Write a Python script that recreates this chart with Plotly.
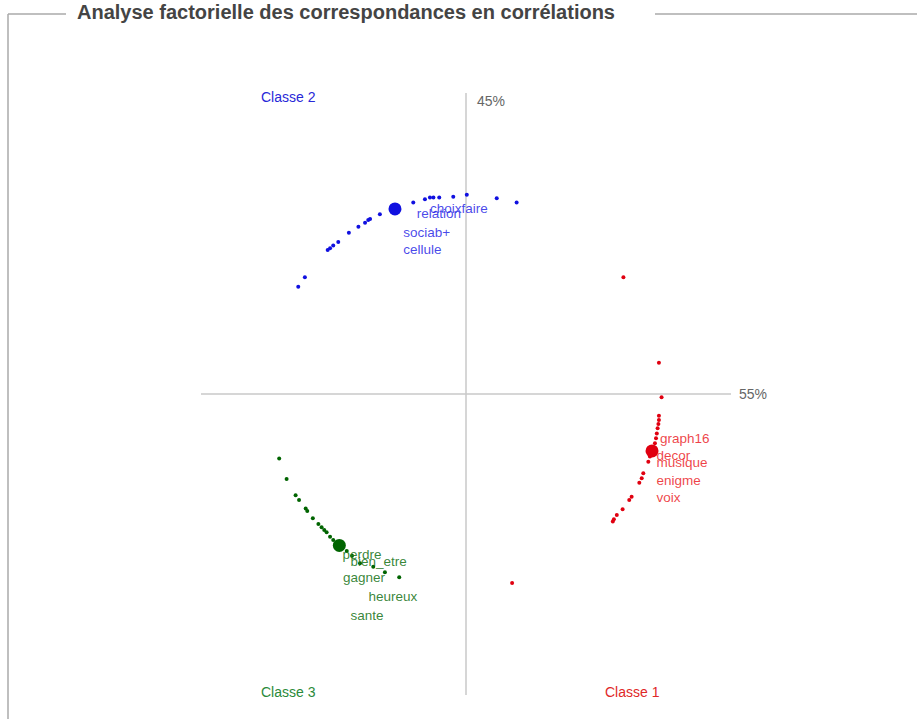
import plotly.graph_objects as go

# ---- data (axis 1 = horizontal, axis 2 = vertical) ----
classe2_x = [-0.633, -0.608, -0.522, -0.513, -0.501, -0.482, -0.442, -0.406, -0.381, -0.369, -0.362,
             -0.325, -0.199, -0.155, -0.136, -0.123, -0.101, -0.048, 0.003, 0.116, 0.191]
classe2_y = [0.356, 0.388, 0.478, 0.484, 0.493, 0.505, 0.536, 0.556, 0.569, 0.578, 0.581,
             0.597, 0.636, 0.647, 0.653, 0.653, 0.653, 0.655, 0.662, 0.650, 0.636]
classe2_center = (-0.268, 0.615)
classe2_labels = ["relation", "choixfaire", "sociab+", "cellule"]
classe2_lab_x = [-0.186, -0.136, -0.237, -0.237]
classe2_lab_y = [0.597, 0.614, 0.534, 0.475]

classe1_x = [0.594, 0.728, 0.738, 0.728, 0.728, 0.726, 0.723, 0.720, 0.717, 0.713, 0.694, 0.688,
             0.669, 0.663, 0.654, 0.625, 0.616, 0.591, 0.569, 0.558, 0.554, 0.174]
classe1_y = [0.388, 0.104, -0.011, -0.072, -0.086, -0.100, -0.114, -0.131, -0.147, -0.164, -0.208, -0.225,
             -0.263, -0.280, -0.295, -0.341, -0.352, -0.383, -0.402, -0.416, -0.424, -0.628]
classe1_center = (0.702, -0.189)
classe1_labels = ["graph16", "decor", "musique", "enigme", "voix"]
classe1_lab_x = [0.732, 0.719, 0.719, 0.719, 0.719]
classe1_lab_y = [-0.153, -0.208, -0.231, -0.291, -0.349]

classe3_x = [-0.705, -0.677, -0.643, -0.630, -0.605, -0.599, -0.578, -0.557, -0.545, -0.535, -0.526,
             -0.513, -0.501, -0.450, -0.430, -0.400, -0.350, -0.306, -0.252]
classe3_y = [-0.214, -0.282, -0.336, -0.352, -0.380, -0.389, -0.413, -0.432, -0.443, -0.452, -0.459,
             -0.474, -0.485, -0.522, -0.537, -0.562, -0.574, -0.592, -0.609]
classe3_center = (-0.478, -0.503)
classe3_labels = ["perdre", "bien_etre", "gagner", "heureux", "sante"]
classe3_lab_x = [-0.466, -0.436, -0.464, -0.368, -0.436]
classe3_lab_y = [-0.537, -0.561, -0.615, -0.676, -0.741]

axis_pct = ["55%", "45%"]
class_names = ["Classe 1", "Classe 2", "Classe 3"]
title = "Analyse factorielle des correspondances en corrélations"

# ---- figure ----
FONT = "Liberation Sans, Arial, sans-serif"
W, H = 917, 719
CX, CY = 466, 394     # origin position inside the figure (pixels)
SX, SY = 265, 301     # pixels per unit

fig = go.Figure()

# axes
fig.add_trace(go.Scatter(x=[-1, 1], y=[0, 0], mode="lines",
                         line=dict(color="#c8c8c8", width=1.5), hoverinfo="skip"))
fig.add_trace(go.Scatter(x=[0, 0], y=[-1, 1], mode="lines",
                         line=dict(color="#c8c8c8", width=1.5), hoverinfo="skip"))

groups = [
    (classe2_x, classe2_y, classe2_center, classe2_labels, classe2_lab_x, classe2_lab_y,
     "#1010e0", "rgba(40,40,230,0.85)"),
    (classe1_x, classe1_y, classe1_center, classe1_labels, classe1_lab_x, classe1_lab_y,
     "#e00010", "rgba(235,30,40,0.85)"),
    (classe3_x, classe3_y, classe3_center, classe3_labels, classe3_lab_x, classe3_lab_y,
     "#006400", "rgba(30,120,30,0.9)"),
]
for px, py, c, labs, lx, ly, pcol, tcol in groups:
    fig.add_trace(go.Scatter(x=px, y=py, mode="markers",
                             marker=dict(size=4, color=pcol, symbol="circle"), hoverinfo="skip"))
    fig.add_trace(go.Scatter(x=[c[0]], y=[c[1]], mode="markers",
                             marker=dict(size=13, color=pcol), hoverinfo="skip"))
    fig.add_trace(go.Scatter(x=lx, y=ly, mode="text", text=labs, textposition="middle right",
                             textfont=dict(family=FONT, size=13.5, color=tcol), hoverinfo="skip"))

ann_font = dict(family=FONT, size=14)
annotations = [
    dict(x=0.094, y=0.973, text=axis_pct[1], font=dict(**ann_font, color="#666666")),
    dict(x=1.083, y=0.0, text=axis_pct[0], font=dict(**ann_font, color="#666666")),
    dict(x=0.630, y=-0.990, text=class_names[0], font=dict(**ann_font, color="#e02828")),
    dict(x=-0.668, y=0.987, text=class_names[1], font=dict(**ann_font, color="#2828d8")),
    dict(x=-0.668, y=-0.990, text=class_names[2], font=dict(**ann_font, color="#2a8a3a")),
]
for a in annotations:
    a.update(xref="x", yref="y", showarrow=False, xanchor="center", yanchor="middle")

annotations.append(dict(x=75 / W, y=1 - 12 / H, xref="paper", yref="paper",
                        text="<b>" + title + "</b>",
                        showarrow=False, xanchor="left", yanchor="middle",
                        font=dict(family=FONT, size=20, color="#444444")))

LY = 1 - 14 / H
LX = 8 / W
shapes = [
    dict(type="line", xref="paper", yref="paper", x0=LX, x1=66 / W, y0=LY, y1=LY,
         line=dict(color="#aaaaaa", width=1.5)),
    dict(type="line", xref="paper", yref="paper", x0=655 / W, x1=1, y0=LY, y1=LY,
         line=dict(color="#aaaaaa", width=1.5)),
    dict(type="line", xref="paper", yref="paper", x0=LX, x1=LX, y0=0, y1=LY,
         line=dict(color="#aaaaaa", width=1.5)),
]

fig.update_layout(
    width=W, height=H, margin=dict(l=0, r=0, t=0, b=0),
    paper_bgcolor="white", plot_bgcolor="white", showlegend=False,
    xaxis=dict(range=[-CX / SX, (W - CX) / SX], visible=False, fixedrange=True),
    yaxis=dict(range=[(CY - H) / SY, CY / SY], visible=False, fixedrange=True),
    annotations=annotations, shapes=shapes,
)
fig.write_html("out.html", config={"displayModeBar": False},
               post_script="document.body.style.margin='0';document.body.style.overflow='hidden';")
